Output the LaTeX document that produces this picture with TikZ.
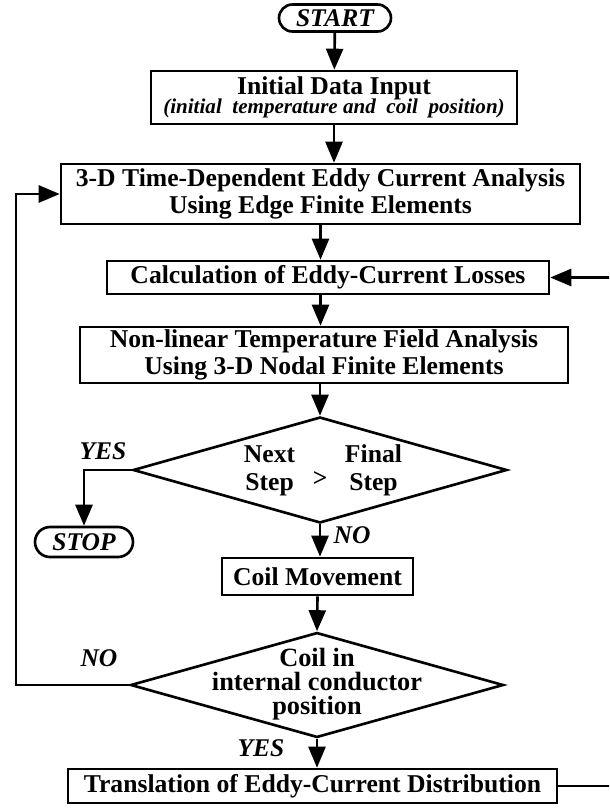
\documentclass[tikz,border=0pt]{standalone}
\usepackage{fontspec}
\setmainfont{Liberation Serif}
\usetikzlibrary{shapes,arrows.meta,positioning,calc}
\newcommand\tightskip{\setlength{\lineskiplimit}{-100pt}}

\begin{document}
\begin{tikzpicture}[x=0.02cm, y=-0.02cm, line width=1.5pt,
    >={Triangle[length=0.42cm,width=0.34cm]},
    box/.style={draw, rectangle, inner sep=0pt, align=center, font=\fontsize{14.6}{15.5}\selectfont\bfseries},
    term/.style={draw, rounded rectangle, inner sep=0pt, font=\fontsize{14.5}{16}\selectfont\bfseries\itshape},
    test/.style={draw, diamond, inner sep=0pt},
    lbl/.style={font=\fontsize{14.5}{15}\selectfont\bfseries\itshape}]

    \useasboundingbox (0,0) rectangle (609,808);
    \clip (0,0) rectangle (609,808);

    % main column
    \node[term, minimum width=2.24cm, minimum height=0.54cm] (start) at (335,18) {START};
    \node[box, minimum width=7.32cm, minimum height=1.06cm] (init) at (334,97.5)
        {\tightskip Initial Data Input\\[-4.5pt]{\fontsize{12}{13}\selectfont\itshape (initial~ temperature and~ coil~ position)}};
    \node[box, minimum width=10.38cm, minimum height=1.2cm] (td) at (320.5,194)
        {3-D Time-Dependent Eddy Current Analysis\\Using Edge Finite Elements};
    \node[box, minimum width=8.84cm, minimum height=0.66cm] (calc) at (328,277.5)
        {Calculation of Eddy-Current Losses};
    \node[box, minimum width=9.76cm, minimum height=1.12cm] (temp) at (324,355)
        {Non-linear Temperature Field Analysis\\Using 3-D Nodal Finite Elements};

    \node[test, minimum width=7.48cm, minimum height=2.12cm] (dec1) at (320,470) {};
    \node[box, draw=none] (cmp) at (323,471)
        {\begin{tabular}{@{}c@{\hspace{10pt}}c@{\hspace{10pt}}c@{}}Next & & Final\\ Step & \raisebox{2pt}{>} & Step\end{tabular}};

    \node[box, minimum width=3.82cm, minimum height=0.74cm] (coil) at (317.5,576.5) {Coil Movement};

    \node[test, minimum width=7.46cm, minimum height=2.1cm] (dec2) at (317,685) {};
    \node[box, draw=none, font=\fontsize{15}{13.5}\selectfont\bfseries] (pos) at (317,684)
        {Coil in\\internal conductor\\position};

    \node[box, minimum width=9.78cm, minimum height=0.68cm] (trans) at (312.5,786)
        {Translation of Eddy-Current Distribution};

    \node[term, minimum width=1.96cm, minimum height=0.6cm] (stop) at (84,542) {STOP};

    % branch labels
    \node[lbl] (yes1) at (103,451) {YES};
    \node[lbl] (no1) at (352,535) {NO};
    \node[lbl] (no2) at (99,658) {NO};
    \node[lbl] (yes2) at (261,748) {YES};

    % connectors
    \draw[->] (start) -- (init);
    \draw[->] (init.south) -- (init.south |- td.north);
    \draw[->] (td.south) -- (td.south |- calc.north);
    \draw[->] (td.south |- calc.south) -- (td.south |- temp.north);
    \draw[->] (dec1.north |- temp.south) -- (dec1.north);
    \draw[->] (dec1.south) -- (dec1.south |- coil.north);
    \draw[->] (coil.south) -- (dec2.north);
    \draw[->] (dec2.south) -- (dec2.south |- trans.north);
    \draw[->] (dec1.west) -| (stop.north);

    \coordinate (lft) at (16,685);
    \draw[->] (dec2.west) -- (lft) |- (td.west);
    \coordinate (rgt) at (625,786);
    \draw[->] (trans.east) -- (rgt) |- (calc.east);
\end{tikzpicture}
\end{document}
